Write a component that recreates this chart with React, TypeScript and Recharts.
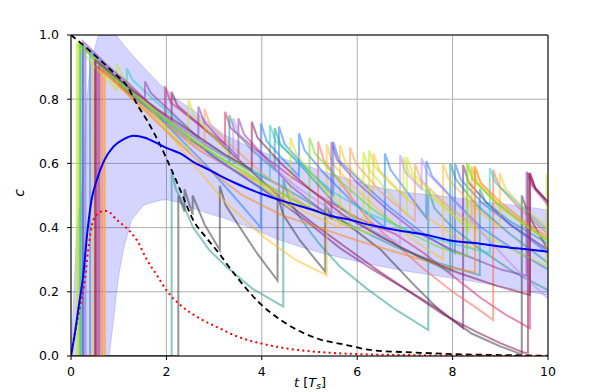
import { ComposedChart, Line, Area, XAxis, YAxis, CartesianGrid, ReferenceLine } from 'recharts'

const X_TICKS = [0, 2, 4, 6, 8, 10]
const Y_TICKS = [0, 0.2, 0.4, 0.6, 0.8, 1.0]

// shaded spread around the mean
const bandX = [0, 0.06, 0.12, 0.2, 0.26, 0.3, 0.4, 0.57, 0.8, 0.9, 0.95, 1.0, 1.1, 1.17, 1.27, 1.52, 1.87, 2.0, 2.22, 2.56, 2.91, 3.2, 3.75, 4.3, 4.8, 5.4, 6.3, 7.0, 8.0, 8.6, 9.3, 10]
const bandHigh = [0, 0.2, 0.4, 0.48, 0.56, 0.75, 0.9, 1.0, 1.0, 1.0, 1.0, 0.99, 0.97, 0.958, 0.94, 0.9, 0.845, 0.83, 0.8, 0.766, 0.725, 0.69, 0.65, 0.62, 0.6, 0.57, 0.53, 0.51, 0.495, 0.48, 0.47, 0.455]
const bandLow = [0, 0, 0, 0, 0, 0, 0, 0, 0, 0.12, 0.19, 0.25, 0.33, 0.37, 0.424, 0.47, 0.485, 0.487, 0.48, 0.46, 0.442, 0.43, 0.4, 0.365, 0.34, 0.315, 0.285, 0.265, 0.242, 0.228, 0.208, 0.19]

const meanLine = [[0, 0], [0.08, 0.07], [0.15, 0.143], [0.26, 0.257], [0.34, 0.382], [0.43, 0.486], [0.54, 0.548], [0.7, 0.61], [0.89, 0.652], [1.1, 0.675], [1.31, 0.686], [1.55, 0.68], [1.8, 0.663], [2.05, 0.645], [2.29, 0.631], [2.56, 0.605], [2.91, 0.579], [3.12, 0.562], [3.5, 0.535], [3.96, 0.507], [4.5, 0.48], [5.08, 0.455], [5.43, 0.437], [5.78, 0.427], [6.27, 0.408], [6.9, 0.39], [7.53, 0.375], [7.95, 0.36], [8.57, 0.35], [9.06, 0.34], [9.5, 0.333], [10, 0.325]]
const dashedRef = [[0, 1], [0.3, 0.963], [0.61, 0.922], [0.9, 0.882], [1.17, 0.842], [1.4, 0.78], [1.59, 0.735], [1.87, 0.657], [2.14, 0.569], [2.35, 0.496], [2.56, 0.424], [2.8, 0.375], [3.05, 0.33], [3.47, 0.247], [3.96, 0.164], [4.45, 0.107], [5.15, 0.055], [5.78, 0.034], [6.27, 0.019], [7.0, 0.012], [7.5, 0.009], [8.0, 0.006], [9.0, 0.003], [10, 0.001]]
const dottedRef = [[0, 0], [0.08, 0.07], [0.19, 0.154], [0.29, 0.237], [0.36, 0.33], [0.47, 0.424], [0.64, 0.45], [0.75, 0.452], [0.96, 0.424], [1.17, 0.398], [1.38, 0.361], [1.59, 0.3], [1.8, 0.252], [2.0, 0.205], [2.29, 0.159], [2.7, 0.117], [3.05, 0.091], [3.5, 0.06], [3.96, 0.04], [4.5, 0.024], [5.15, 0.013], [6.0, 0.006], [7.0, 0.003], [8.0, 0.001], [10, 0]]

// individual sawtooth trajectories
const trajTealLate = [[0, 0], [2.11, 0], [2.11, 0.574], [2.2, 0.52], [2.3, 0.49], [2.56, 0.4], [2.9, 0.33], [3.26, 0.278], [3.8, 0.21], [4.45, 0.154], [4.45, 0.55], [4.57, 0.49], [4.8, 0.43], [5.2, 0.35], [5.64, 0.278], [6.2, 0.21], [6.8, 0.145], [7.49, 0.081], [7.49, 0.52], [7.62, 0.46], [8.0, 0.4], [8.6, 0.33], [9.3, 0.26], [10, 0.205]]
const trajGray = [[0, 0], [2.25, 0], [2.25, 0.5], [2.38, 0.45], [2.38, 0.52], [2.55, 0.44], [2.55, 0.5], [2.8, 0.41], [3.12, 0.33], [3.12, 0.53], [3.24, 0.47], [3.5, 0.41], [3.9, 0.32], [4.33, 0.235], [4.33, 0.5], [4.45, 0.44], [4.8, 0.36], [5.33, 0.263], [5.33, 0.47], [5.45, 0.44], [5.8, 0.41], [6.5, 0.33], [7.2, 0.22], [7.74, 0.14], [8.4, 0.07], [9.0, 0.03], [9.45, 0.005], [9.45, 0.5], [9.57, 0.45], [9.7, 0.41], [10, 0.33]]
const trajMagenta = [[0, 0], [0.59, 0], [0.59, 0.91], [1.2, 0.83], [1.8, 0.76], [2.4, 0.69], [3.0, 0.62], [3.6, 0.56], [4.2, 0.5], [4.94, 0.42], [5.64, 0.336], [6.34, 0.268], [7.04, 0.206], [7.74, 0.143], [8.22, 0.087], [8.22, 0.595], [8.34, 0.54], [8.7, 0.48], [9.2, 0.41], [9.7, 0.36], [10, 0.33]]
const trajDarkRed = [[0, 0], [0.5, 0], [0.5, 0.93], [1.1, 0.85], [1.6, 0.79], [2.11, 0.73], [2.11, 0.823], [2.23, 0.78], [2.7, 0.72], [3.3, 0.64], [3.9, 0.56], [4.5, 0.48], [5.1, 0.41], [5.7, 0.345], [6.4, 0.27], [7.1, 0.2], [7.8, 0.13], [8.5, 0.075], [9.0, 0.04], [9.5, 0.01], [9.58, 0.01], [9.58, 0.57], [9.7, 0.53], [10, 0.48]]
const trajPink = [[0, 0], [0.55, 0], [0.55, 0.9], [1.2, 0.82], [1.97, 0.74], [1.97, 0.84], [2.09, 0.79], [2.6, 0.73], [3.23, 0.66], [3.23, 0.761], [3.35, 0.71], [3.9, 0.64], [4.6, 0.56], [5.3, 0.49], [6.0, 0.43], [6.8, 0.38], [7.4, 0.32], [8.0, 0.25], [8.6, 0.18], [9.1, 0.13], [9.62, 0.086], [9.62, 0.57], [9.74, 0.52], [10, 0.48]]
const trajSalmon = [[0, 0], [0.66, 0], [0.66, 0.89], [1.3, 0.81], [2.0, 0.72], [2.7, 0.64], [3.4, 0.58], [4.1, 0.53], [4.6, 0.49], [5.18, 0.45], [5.18, 0.668], [5.3, 0.61], [5.7, 0.53], [6.2, 0.43], [6.8, 0.35], [7.4, 0.27], [8.0, 0.2], [8.5, 0.15], [8.85, 0.112], [8.85, 0.58], [8.97, 0.53], [9.4, 0.46], [10, 0.38]]
const trajTeal = [[0, 0], [0.2, 0], [0.2, 0.97], [0.7, 0.89], [1.2, 0.82], [1.8, 0.75], [2.4, 0.68], [3.32, 0.6], [3.32, 0.75], [3.44, 0.7], [3.8, 0.64], [4.27, 0.58], [4.27, 0.71], [4.39, 0.66], [4.9, 0.58], [5.5, 0.48], [6.2, 0.4], [7.0, 0.33], [7.95, 0.262], [7.95, 0.6], [8.07, 0.55], [8.5, 0.47], [9.2, 0.38], [10, 0.29]]
const trajTealB = [[0, 0], [0.3, 0], [0.3, 0.96], [0.9, 0.88], [1.5, 0.8], [2.2, 0.72], [2.9, 0.65], [3.6, 0.59], [4.4, 0.53], [5.2, 0.46], [5.92, 0.403], [6.8, 0.34], [7.7, 0.29], [8.57, 0.252], [8.57, 0.52], [8.69, 0.48], [9.2, 0.42], [10, 0.35]]
const trajGold = [[0, 0], [0.7, 0], [0.7, 0.88], [1.3, 0.8], [1.9, 0.72], [2.5, 0.61], [3.19, 0.486], [4.03, 0.372], [4.7, 0.3], [5.36, 0.252], [5.36, 0.66], [5.48, 0.6], [5.9, 0.53], [6.5, 0.45], [7.1, 0.37], [7.8, 0.3], [7.8, 0.6], [7.92, 0.55], [8.4, 0.47], [8.99, 0.4], [8.99, 0.57], [9.11, 0.52], [9.5, 0.46], [10, 0.4]]
const trajGoldB = [[0, 0], [0.45, 0], [0.45, 0.94], [1.1, 0.85], [1.8, 0.76], [2.5, 0.68], [3.3, 0.6], [4.1, 0.52], [4.9, 0.45], [5.64, 0.4], [5.64, 0.657], [5.76, 0.6], [6.0, 0.56], [6.34, 0.51], [6.34, 0.631], [6.46, 0.58], [6.9, 0.51], [7.5, 0.43], [8.46, 0.33], [8.46, 0.59], [8.58, 0.54], [9.0, 0.47], [9.6, 0.4], [10, 0.36]]
const trajBlue = [[0, 0], [0.4, 0], [0.4, 0.95], [1.0, 0.86], [1.6, 0.78], [2.2, 0.69], [2.8, 0.6], [3.4, 0.5], [3.98, 0.4], [3.98, 0.725], [4.1, 0.67], [4.4, 0.62], [4.78, 0.56], [4.78, 0.694], [4.9, 0.64], [5.3, 0.57], [5.9, 0.48], [6.58, 0.4], [6.58, 0.631], [6.7, 0.58], [7.0, 0.52], [7.45, 0.43], [7.45, 0.607], [7.57, 0.56], [8.0, 0.49], [8.6, 0.4], [9.3, 0.33], [10, 0.27]]
const trajBlueB = [[0, 0], [0.25, 0], [0.25, 0.97], [0.9, 0.87], [1.6, 0.78], [2.3, 0.7], [3.0, 0.62], [3.7, 0.55], [4.36, 0.49], [4.36, 0.715], [4.48, 0.66], [4.9, 0.59], [5.5, 0.5], [5.5, 0.667], [5.62, 0.61], [6.1, 0.54], [6.7, 0.46], [7.4, 0.38], [8.05, 0.32], [8.05, 0.6], [8.17, 0.55], [8.6, 0.48], [9.3, 0.4], [10, 0.32]]
const trajTurquoise = [[0, 0], [0.2, 0], [0.2, 0.97], [0.7, 0.9], [1.17, 0.84], [1.17, 0.896], [1.29, 0.86], [1.8, 0.79], [2.5, 0.7], [3.3, 0.62], [4.17, 0.55], [4.17, 0.72], [4.29, 0.67], [4.8, 0.6], [5.5, 0.51], [6.3, 0.44], [7.1, 0.39], [8.0, 0.35], [8.78, 0.32], [8.78, 0.585], [8.9, 0.54], [9.4, 0.47], [10, 0.39]]
const trajPeach = [[0, 0], [0.71, 0], [0.71, 0.88], [1.3, 0.8], [1.9, 0.73], [2.8, 0.64], [2.8, 0.77], [2.92, 0.72], [3.4, 0.65], [4.0, 0.57], [4.9, 0.47], [5.85, 0.4], [5.85, 0.65], [5.97, 0.6], [6.5, 0.51], [7.21, 0.42], [7.21, 0.6], [7.33, 0.55], [7.8, 0.48], [8.4, 0.41], [8.4, 0.59], [8.52, 0.54], [8.9, 0.48], [9.5, 0.41], [10, 0.36]]
const trajYellowGreen = [[0, 0], [0.12, 0], [0.12, 0.97], [0.5, 0.9], [0.96, 0.83], [0.96, 0.91], [1.08, 0.87], [1.5, 0.8], [2.0, 0.71], [2.46, 0.64], [2.46, 0.8], [2.58, 0.75], [3.0, 0.68], [3.5, 0.6], [4.0, 0.53], [4.6, 0.46], [4.6, 0.68], [4.72, 0.63], [5.2, 0.54], [5.8, 0.45], [6.13, 0.41], [6.13, 0.636], [6.25, 0.58], [6.6, 0.52], [7.04, 0.44], [7.04, 0.62], [7.16, 0.57], [7.6, 0.5], [8.33, 0.39], [8.33, 0.6], [8.45, 0.55], [9.0, 0.46], [10, 0.36]]
const trajYellowGreenB = [[0, 0], [0.15, 0], [0.15, 0.98], [0.6, 0.91], [1.2, 0.83], [1.8, 0.76], [2.5, 0.68], [3.3, 0.6], [4.2, 0.52], [5.1, 0.45], [6.25, 0.38], [6.25, 0.64], [6.37, 0.59], [6.6, 0.55], [6.97, 0.5], [6.97, 0.62], [7.09, 0.57], [7.5, 0.5], [8.2, 0.42], [9.0, 0.35], [9.97, 0.28], [9.97, 0.56], [10, 0.555]]
const trajPurple = [[0, 0], [0.25, 0], [0.25, 0.98], [0.8, 0.9], [1.2, 0.85], [1.55, 0.8], [1.55, 0.855], [1.67, 0.82], [2.1, 0.76], [2.67, 0.68], [2.67, 0.777], [2.79, 0.73], [3.1, 0.68], [3.51, 0.62], [3.51, 0.74], [3.63, 0.69], [4.0, 0.63], [4.6, 0.53], [5.46, 0.43], [5.46, 0.667], [5.58, 0.61], [6.0, 0.54], [6.6, 0.46], [7.2, 0.39], [8.0, 0.33], [9.0, 0.27], [9.55, 0.25], [9.55, 0.574], [9.67, 0.53], [10, 0.47]]
const trajLavender = [[0, 0], [0.3, 0], [0.3, 0.96], [0.9, 0.88], [1.6, 0.79], [2.4, 0.7], [3.4, 0.61], [3.4, 0.74], [3.52, 0.69], [4.0, 0.62], [4.7, 0.53], [5.5, 0.45], [6.2, 0.4], [6.9, 0.35], [6.9, 0.626], [7.02, 0.57], [7.35, 0.52], [7.35, 0.616], [7.47, 0.57], [8.0, 0.49], [8.7, 0.37], [9.4, 0.26], [10, 0.18]]
const trajOrange = [[0, 0], [0.62, 0], [0.62, 0.9], [1.3, 0.8], [2.0, 0.7], [2.8, 0.59], [3.6, 0.5], [4.4, 0.44], [5.2, 0.4], [6.0, 0.36], [6.9, 0.32], [7.8, 0.28], [8.47, 0.26], [8.47, 0.59], [8.59, 0.54], [9.0, 0.48], [9.5, 0.42], [10, 0.37]]
const trajLightGreen = [[0, 0], [0.18, 0], [0.18, 0.97], [0.8, 0.88], [1.5, 0.79], [2.3, 0.7], [3.1, 0.62], [3.9, 0.55], [5.0, 0.46], [5.0, 0.68], [5.12, 0.63], [5.6, 0.55], [6.3, 0.46], [7.0, 0.39], [7.7, 0.34], [8.3, 0.31], [8.3, 0.6], [8.42, 0.55], [8.9, 0.48], [9.5, 0.41], [10, 0.36]]
const trajDarkRedB = [[0, 0], [0.52, 0], [0.52, 0.92], [1.1, 0.85], [1.8, 0.77], [2.5, 0.7], [3.2, 0.63], [3.79, 0.58], [3.79, 0.73], [3.91, 0.68], [4.4, 0.6], [5.0, 0.52], [5.7, 0.44], [6.5, 0.37], [7.3, 0.31], [8.1, 0.26], [8.9, 0.22], [9.62, 0.19], [9.62, 0.57], [9.74, 0.52], [10, 0.48]]

const trajectories = [
  { name: 'tealLate', pts: trajTealLate, color: '#2a9d8f' },
  { name: 'gray', pts: trajGray, color: '#404040' },
  { name: 'magenta', pts: trajMagenta, color: '#7d1e8c' },
  { name: 'darkRed', pts: trajDarkRed, color: '#8b1a4a' },
  { name: 'pink', pts: trajPink, color: '#d6286f' },
  { name: 'salmon', pts: trajSalmon, color: '#ff6a55' },
  { name: 'teal', pts: trajTeal, color: '#2a9d8f' },
  { name: 'tealB', pts: trajTealB, color: '#2a9d8f' },
  { name: 'gold', pts: trajGold, color: '#ffbf2a' },
  { name: 'goldB', pts: trajGoldB, color: '#ffbf2a' },
  { name: 'blue', pts: trajBlue, color: '#2a7fff' },
  { name: 'blueB', pts: trajBlueB, color: '#2a7fff' },
  { name: 'turquoise', pts: trajTurquoise, color: '#22d6c0' },
  { name: 'peach', pts: trajPeach, color: '#ff9a50' },
  { name: 'yellowGreen', pts: trajYellowGreen, color: '#c8e620' },
  { name: 'yellowGreenB', pts: trajYellowGreenB, color: '#c8e620' },
  { name: 'purple', pts: trajPurple, color: '#8e3fb0' },
  { name: 'lavender', pts: trajLavender, color: '#c08cff' },
  { name: 'orange', pts: trajOrange, color: '#ff8a1a' },
  { name: 'lightGreen', pts: trajLightGreen, color: '#6edc2a' },
  { name: 'darkRedB', pts: trajDarkRedB, color: '#8b1a4a' },
]

const toRows = (pts: number[][]) => pts.map(([x, y]) => ({ x, y }))
const bandRows = bandX.map((x, i) => ({ x, range: [bandLow[i], bandHigh[i]] }))

const FONT = 'DejaVu Sans, sans-serif'
const tickStyle = { fill: '#000', fontSize: 12.5, fontFamily: FONT }

export default function App() {
  return (
    <div style={{ position: 'absolute', left: 0, top: 0 }}>
      <ComposedChart width={592} height={392} margin={{ top: 35, right: 44, bottom: 0, left: 0 }}>
        <CartesianGrid stroke="#b0b0b0" strokeWidth={1} />
        <XAxis
          type="number"
          dataKey="x"
          domain={[0, 10]}
          ticks={X_TICKS}
          allowDataOverflow
          height={36}
          tick={tickStyle}
          tickSize={4}
          tickMargin={7}
          stroke="#000"
          label={{
            content: () => (
              <text x={310} y={387} textAnchor="middle" fontFamily={FONT} fontSize={13} fill="#000">
                <tspan fontStyle="italic">t</tspan> [<tspan fontStyle="italic">T</tspan>
                <tspan fontStyle="italic" fontSize={9} dy={2}>s</tspan>
                <tspan dy={-2}>]</tspan>
              </text>
            ),
          }}
        />
        <YAxis
          type="number"
          domain={[0, 1]}
          ticks={Y_TICKS}
          allowDataOverflow
          width={71}
          tick={tickStyle}
          tickSize={4}
          tickMargin={8}
          tickFormatter={(v: number) => v.toFixed(1)}
          stroke="#000"
          label={{
            content: () => (
              <text x={24} y={193} transform="rotate(-90 24 193)" textAnchor="middle" fontFamily={FONT} fontSize={14} fontStyle="italic" fill="#000">
                c
              </text>
            ),
          }}
        />
        <Area
          data={bandRows}
          dataKey="range"
          type="linear"
          fill="#0000ff"
          fillOpacity={0.17}
          stroke="#0000ff"
          strokeOpacity={0.15}
          isAnimationActive={false}
          activeDot={false}
        />
        {trajectories.map(t => (
          <Line
            key={t.name}
            data={toRows(t.pts)}
            dataKey="y"
            type="linear"
            stroke={t.color}
            strokeOpacity={0.55}
            strokeWidth={2}
            dot={false}
            activeDot={false}
            isAnimationActive={false}
          />
        ))}
        <Line data={toRows(dashedRef)} dataKey="y" type="monotone" stroke="#000" strokeWidth={1.8} strokeDasharray="6 4" dot={false} activeDot={false} isAnimationActive={false} />
        <Line data={toRows(dottedRef)} dataKey="y" type="monotone" stroke="#ff0000" strokeWidth={2} strokeDasharray="2 3.3" dot={false} activeDot={false} isAnimationActive={false} />
        <Line data={toRows(meanLine)} dataKey="y" type="monotone" stroke="#0000ff" strokeWidth={2} dot={false} activeDot={false} isAnimationActive={false} />
        <ReferenceLine y={1} stroke="#000" strokeWidth={1} />
        <ReferenceLine x={10} stroke="#000" strokeWidth={1} />
      </ComposedChart>
    </div>
  )
}
